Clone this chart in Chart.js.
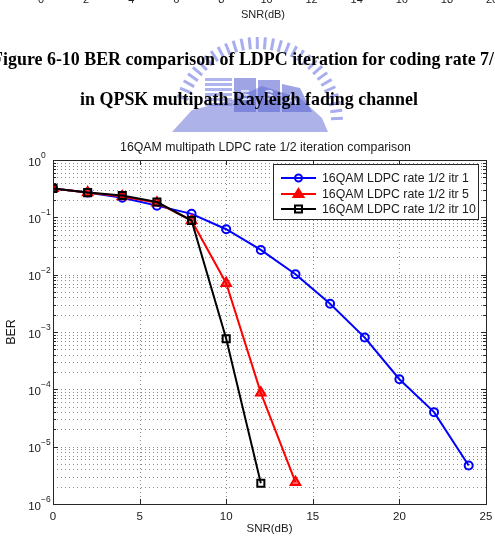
<!DOCTYPE html>
<html><head><meta charset="utf-8">
<script src="https://cdn.jsdelivr.net/npm/chart.js@4/dist/chart.umd.min.js"></script>
<style>html,body{margin:0;padding:0;background:#fff;}canvas{display:block;}</style>
</head><body>
<canvas id="c" width="495" height="541"></canvas>
<script>
// ---- data ----
const snrItr1 = [0, 2, 4, 6, 8, 10, 12, 14, 16, 18, 20, 22, 24];
const berItr1 = [0.32, 0.27, 0.22, 0.16, 0.115, 0.062, 0.027, 0.0102, 0.0031, 0.0008, 0.00015, 0.00004, 0.0000047];
const snrItr5 = [0, 2, 4, 6, 8, 10, 12, 14];
const berItr5 = [0.32, 0.27, 0.23, 0.18, 0.088, 0.0071, 0.000087, 0.0000024];
const snrItr10 = [0, 2, 4, 6, 8, 10, 12];
const berItr10 = [0.32, 0.27, 0.24, 0.185, 0.088, 0.00076, 0.0000023];
const seriesNames = ['16QAM LDPC rate 1/2 itr 1', '16QAM LDPC rate 1/2 itr 5', '16QAM LDPC rate 1/2 itr 10'];
const xTicks = [0, 5, 10, 15, 20, 25];
const yExponents = [0, -1, -2, -3, -4, -5, -6];
const prevXTicks = ['0', '2', '4', '6', '8', '10', '12', '14', '16', '18', '20'];
const chartTitle = '16QAM multipath LDPC rate 1/2 iteration comparison';
const xTitle = 'SNR(dB)';
const yTitle = 'BER';
const captionLine1 = 'Figure 6-10 BER comparison of LDPC iteration for coding rate 7/';
const captionLine2 = 'in QPSK multipath Rayleigh fading channel';

const colors = ['#0000ff', '#ff0000', '#000000'];
const styles = ['circle', 'triangle', 'rect'];

function pts(xs, ys) { return xs.map((x, i) => ({ x: x, y: ys[i] })); }

const SANS = '"Liberation Sans", Arial, sans-serif';
const SERIF = '"Liberation Serif", "Times New Roman", serif';

function fitFont(ctx, text, weight, family, target) {
  ctx.font = weight + ' 20px ' + family;
  const w = ctx.measureText(text).width;
  return 20 * target / w;
}

function drawWatermark(ctx) {
  ctx.save();
  // arc of rays
  ctx.strokeStyle = 'rgba(110,120,225,0.6)';
  ctx.lineWidth = 3;
  const cx = 258, cy = 122;
  for (let a = 198; a <= 362; a += 5.5) {
    const r = a * Math.PI / 180;
    ctx.beginPath();
    ctx.moveTo(cx + Math.cos(r) * 73, cy + Math.sin(r) * 73);
    ctx.lineTo(cx + Math.cos(r) * 85, cy + Math.sin(r) * 85);
    ctx.stroke();
  }
  // ground / map base
  ctx.fillStyle = 'rgba(105,115,215,0.55)';
  ctx.beginPath();
  ctx.moveTo(172, 132); ctx.lineTo(192, 110); ctx.lineTo(232, 100); ctx.lineTo(262, 86);
  ctx.lineTo(300, 98); ctx.lineTo(322, 118); ctx.lineTo(328, 132); ctx.closePath();
  ctx.fill();
  // left striped building
  ctx.fillStyle = 'rgba(120,130,225,0.6)';
  for (let y = 78; y < 108; y += 5) ctx.fillRect(205, y, 27, 3);
  // letter blocks
  ctx.fillStyle = 'rgba(95,105,210,0.6)';
  ctx.fillRect(234, 78, 22, 34);
  ctx.fillRect(258, 80, 22, 32);
  ctx.beginPath(); ctx.moveTo(282, 84); ctx.lineTo(300, 88); ctx.lineTo(312, 112); ctx.lineTo(282, 112); ctx.closePath(); ctx.fill();
  ctx.fillStyle = 'rgba(235,238,255,0.85)';
  ctx.font = 'bold 15px ' + SANS;
  ctx.textAlign = 'center';
  ctx.fillText('E', 245, 100); ctx.fillText('S', 269, 100); ctx.fillText('A', 292, 104);
  ctx.restore();
}

const pagePlugin = {
  id: 'page',
  beforeDraw(chart) {
    const ctx = chart.ctx;
    ctx.save();
    ctx.fillStyle = '#ffffff';
    ctx.fillRect(0, 0, chart.width, chart.height);
    ctx.restore();
    drawWatermark(ctx);
  },
  beforeDatasetsDraw(chart) {
    const ctx = chart.ctx, a = chart.chartArea, xs = chart.scales.x, ys = chart.scales.y;
    ctx.save();
    ctx.strokeStyle = 'rgba(90,90,90,0.7)';
    ctx.lineWidth = 1;
    ctx.setLineDash([1, 3]);
    xTicks.forEach(v => {
      const px = Math.round(xs.getPixelForValue(v)) + 0.5;
      if (px <= a.left + 1 || px >= a.right - 1) return;
      ctx.beginPath(); ctx.moveTo(px, a.top); ctx.lineTo(px, a.bottom); ctx.stroke();
    });
    yExponents.forEach(e => {
      if (e === 0) return;
      for (let m = 1; m <= 9; m++) {
        const v = m * Math.pow(10, e);
        const py = Math.round(ys.getPixelForValue(v)) + 0.5;
        if (py <= a.top + 1 || py >= a.bottom - 1) continue;
        ctx.beginPath(); ctx.moveTo(a.left, py); ctx.lineTo(a.right, py); ctx.stroke();
      }
    });
    ctx.restore();
  },
  afterDraw(chart) {
    const ctx = chart.ctx, a = chart.chartArea, xs = chart.scales.x, ys = chart.scales.y;
    ctx.save();
    // axes box
    ctx.strokeStyle = '#262626';
    ctx.lineWidth = 1;
    ctx.strokeRect(Math.round(a.left) + 0.5, Math.round(a.top) + 0.5, Math.round(a.right - a.left), Math.round(a.bottom - a.top));
    // inward ticks
    ctx.beginPath();
    xTicks.forEach(v => {
      const px = Math.round(xs.getPixelForValue(v)) + 0.5;
      ctx.moveTo(px, a.bottom); ctx.lineTo(px, a.bottom - 5);
      ctx.moveTo(px, a.top); ctx.lineTo(px, a.top + 5);
    });
    yExponents.forEach(e => {
      for (let m = 1; m <= 9; m++) {
        if (e === -6 && m > 1) break;
        if (e === 0 && m > 1) break;
        const v = m * Math.pow(10, e);
        const py = Math.round(ys.getPixelForValue(v)) + 0.5;
        const len = m === 1 ? 5 : 3;
        ctx.moveTo(a.left, py); ctx.lineTo(a.left + len, py);
        ctx.moveTo(a.right, py); ctx.lineTo(a.right - len, py);
      }
    });
    ctx.stroke();
    // x tick labels
    ctx.fillStyle = '#1a1a1a';
    ctx.font = '11.5px ' + SANS;
    ctx.textAlign = 'center';
    ctx.textBaseline = 'alphabetic';
    xTicks.forEach(v => ctx.fillText(String(v), xs.getPixelForValue(v), a.bottom + 16));
    // y tick labels 10^e
    yExponents.forEach(e => {
      const py = ys.getPixelForValue(Math.pow(10, e));
      ctx.font = '11.5px ' + SANS;
      ctx.textAlign = 'right';
      ctx.fillText('10', a.left - 12, py + 5.5);
      ctx.font = '8.5px ' + SANS;
      ctx.textAlign = 'left';
      ctx.fillText(e === 0 ? '0' : '\u2212' + String(-e), a.left - 12, py - 2);
    });
    // axis titles
    ctx.font = '11.5px ' + SANS;
    ctx.textAlign = 'center';
    ctx.fillText(xTitle, (a.left + a.right) / 2, a.bottom + 28);
    ctx.save();
    ctx.font = '12.5px ' + SANS;
    ctx.translate(12, (a.top + a.bottom) / 2);
    ctx.rotate(-Math.PI / 2);
    ctx.textBaseline = 'middle';
    ctx.fillText(yTitle, 0, 0);
    ctx.restore();
    // chart title
    const tf = fitFont(ctx, chartTitle, '', SANS, 291);
    ctx.font = tf.toFixed(2) + 'px ' + SANS;
    ctx.textAlign = 'center';
    ctx.textBaseline = 'alphabetic';
    ctx.fillText(chartTitle, 265.5, 151);
    // legend
    const lx = 273.5, ly = 164.5, lw = 205, lh = 55;
    ctx.fillStyle = '#ffffff';
    ctx.fillRect(lx, ly, lw, lh);
    ctx.strokeStyle = '#262626';
    ctx.lineWidth = 1;
    ctx.strokeRect(lx, ly, lw, lh);
    const lf = fitFont(ctx, seriesNames[2], '', SANS, 154);
    const rowsY = [178, 194, 209];
    seriesNames.forEach((name, i) => {
      const y = rowsY[i];
      ctx.strokeStyle = colors[i];
      ctx.lineWidth = 2;
      ctx.beginPath(); ctx.moveTo(281, y); ctx.lineTo(316, y); ctx.stroke();
      ctx.beginPath();
      if (styles[i] === 'circle') { ctx.arc(298.5, y, 3.5, 0, Math.PI * 2); ctx.stroke(); }
      else if (styles[i] === 'triangle') {
        ctx.fillStyle = colors[i];
        ctx.moveTo(298.5, y - 5); ctx.lineTo(303.5, y + 3); ctx.lineTo(293.5, y + 3); ctx.closePath(); ctx.fill(); ctx.stroke();
      } else { ctx.strokeRect(295, y - 3.5, 7, 7); }
      ctx.fillStyle = '#1a1a1a';
      ctx.font = lf.toFixed(2) + 'px ' + SANS;
      ctx.textAlign = 'left';
      ctx.textBaseline = 'middle';
      ctx.fillText(name, 322, y + 0.5);
    });
    // page text above the chart: previous figure's axis (cut off) and caption
    ctx.fillStyle = '#222';
    ctx.font = '11px ' + SANS;
    ctx.textAlign = 'center';
    ctx.textBaseline = 'alphabetic';
    prevXTicks.forEach((t, i) => ctx.fillText(t, 41 + i * 45.1, 3));
    ctx.fillText(xTitle, 263, 18);
    ctx.fillStyle = '#000';
    const cf = fitFont(ctx, captionLine2, 'bold', SERIF, 338);
    ctx.font = 'bold ' + cf.toFixed(2) + 'px ' + SERIF;
    ctx.textAlign = 'center';
    ctx.fillText(captionLine2, 249, 105);
    ctx.textAlign = 'left';
    const fw = ctx.measureText('F').width;
    ctx.fillText(captionLine1, 3 - fw, 65);
    ctx.restore();
  }
};

function ds(i, xs, ys) {
  return {
    label: seriesNames[i],
    data: pts(xs, ys),
    borderColor: colors[i],
    backgroundColor: colors[i],
    borderWidth: 2,
    pointStyle: styles[i],
    pointRadius: styles[i] === 'rect' ? 5 : (styles[i] === 'triangle' ? 5.5 : 4),
    pointBorderWidth: 2,
    pointBorderColor: colors[i],
    pointBackgroundColor: styles[i] === 'triangle' ? 'rgba(255,0,0,0.6)' : 'rgba(0,0,0,0)',
    tension: 0,
    order: 2 - i
  };
}

new Chart(document.getElementById('c'), {
  type: 'line',
  data: {
    datasets: [ds(0, snrItr1, berItr1), ds(1, snrItr5, berItr5), ds(2, snrItr10, berItr10)]
  },
  options: {
    responsive: false,
    animation: false,
    devicePixelRatio: 1,
    layout: { padding: { left: 45, right: 9, top: 160, bottom: 29 } },
    plugins: { legend: { display: false }, tooltip: { enabled: false }, title: { display: false } },
    scales: {
      x: {
        type: 'linear', min: 0, max: 25,
        ticks: { display: false, stepSize: 5 },
        grid: { display: false },
        border: { display: false }
      },
      y: {
        type: 'logarithmic', min: 1e-6, max: 1,
        ticks: { display: false },
        grid: { display: false },
        border: { display: false }
      }
    }
  },
  plugins: [pagePlugin]
});
</script>
</body></html>
